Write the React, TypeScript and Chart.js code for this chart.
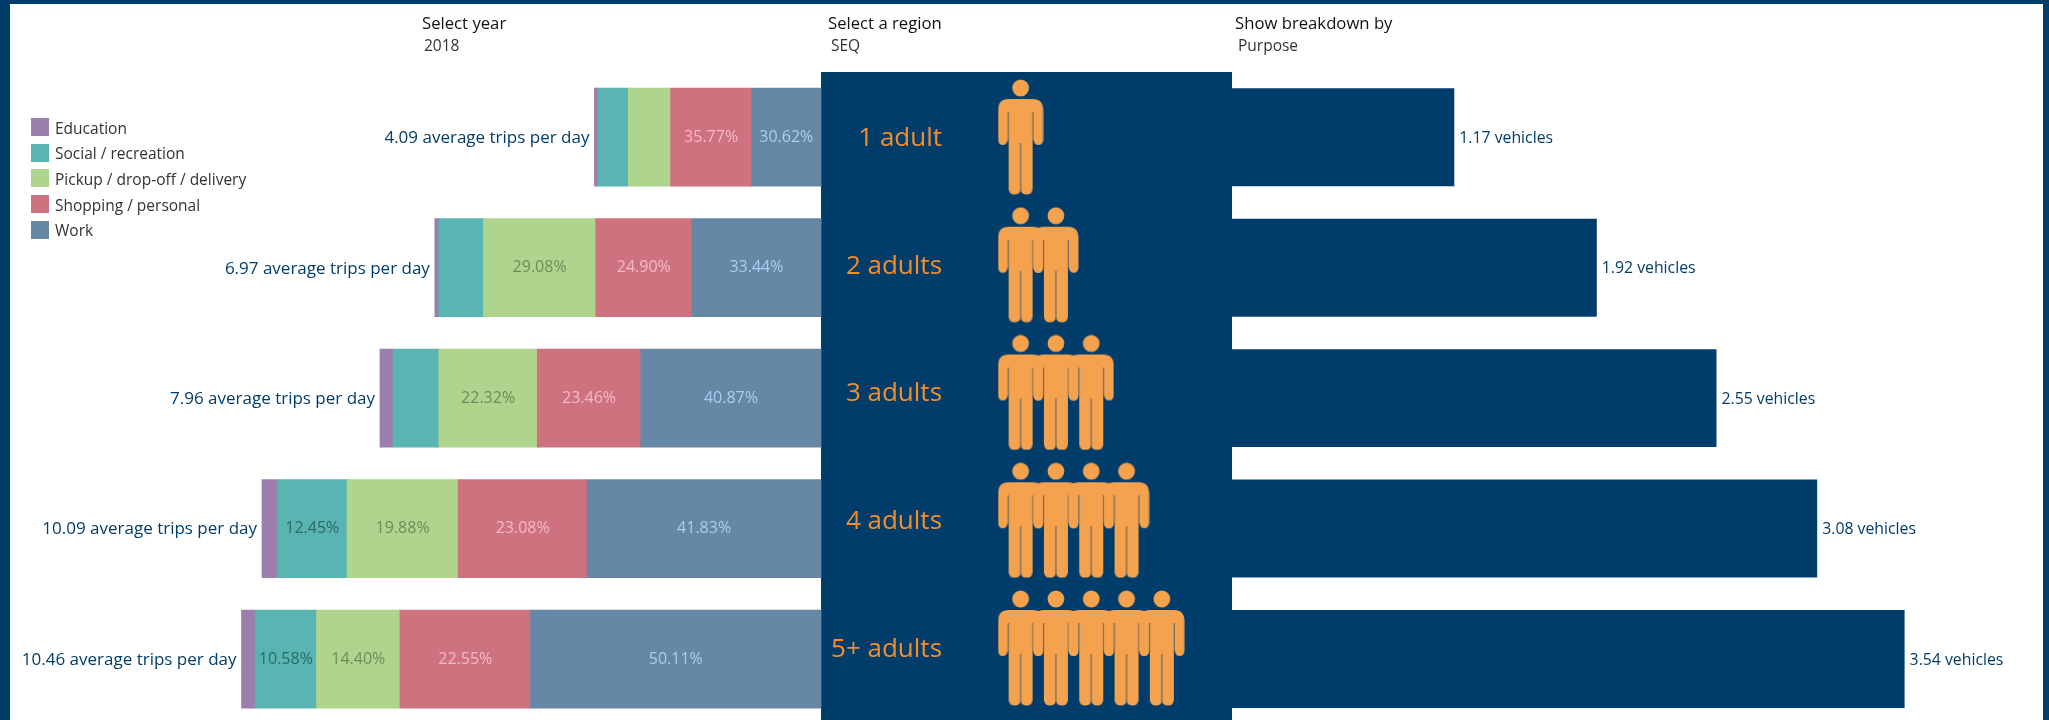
import React, { useEffect, useRef } from "react";
import { Chart, registerables } from "chart.js";

Chart.register(...registerables);

const FONT = "'Open Sans'";
const NAVY = "#003D6B";

const households = ["1 adult", "2 adults", "3 adults", "4 adults", "5+ adults"];
const adultCounts = [1, 2, 3, 4, 5];
const averageTrips = [4.09, 6.97, 7.96, 10.09, 10.46];
const vehicles = [1.17, 1.92, 2.55, 3.08, 3.54];

const purposeLegend = ["Education", "Social / recreation", "Pickup / drop-off / delivery", "Shopping / personal", "Work"];
const purposeColors = ["#9D7FAE", "#58B5B1", "#AED48E", "#CF7280", "#6688A6"];
const purposeTextColors = ["#ffffff", "#2C6A6C", "#6C8D58", "#F6BAC6", "#A9D0EE"];

const shareEducation = [1.4, 1.0, 2.95, 2.76, 2.36];
const shareSocial = [13.6, 11.58, 10.4, 12.45, 10.58];
const sharePickup = [18.61, 29.08, 22.32, 19.88, 14.4];
const shareShopping = [35.77, 24.9, 23.46, 23.08, 22.55];
const shareWork = [30.62, 33.44, 40.87, 41.83, 50.11];
const allShares = [shareEducation, shareSocial, sharePickup, shareShopping, shareWork];

const showShare = [
  [false, false, false, false, false],
  [false, false, false, true, true],
  [false, true, true, true, true],
  [true, true, true, true, true],
  [true, true, true, true, true],
];

const selectors = [
  { title: "Select year", value: "2018", x: 422, vx: 424 },
  { title: "Select a region", value: "SEQ", x: 828, vx: 831 },
  { title: "Show breakdown by", value: "Purpose", x: 1235, vx: 1238 },
];

function makePerson(): HTMLCanvasElement {
  const c = document.createElement("canvas");
  c.width = 46;
  c.height = 116;
  const g = c.getContext("2d") as CanvasRenderingContext2D;
  g.fillStyle = "#F4A24E";
  g.beginPath();
  g.ellipse(23, 9, 8.4, 8.6, 0, 0, Math.PI * 2);
  g.fill();
  g.beginPath();
  g.moveTo(11, 20);
  g.lineTo(35, 20);
  g.quadraticCurveTo(45.5, 20, 45.5, 31);
  g.lineTo(45.5, 61);
  g.quadraticCurveTo(45, 66, 41, 66);
  g.quadraticCurveTo(36.5, 66, 36, 61);
  g.lineTo(35, 61);
  g.lineTo(35, 110);
  g.quadraticCurveTo(34.5, 115.5, 29, 115.5);
  g.quadraticCurveTo(24, 115.5, 23, 111);
  g.quadraticCurveTo(22, 115.5, 17, 115.5);
  g.quadraticCurveTo(11.5, 115.5, 11, 110);
  g.lineTo(11, 61);
  g.lineTo(10, 61);
  g.quadraticCurveTo(9.5, 66, 5, 66);
  g.quadraticCurveTo(1, 66, 0.5, 61);
  g.lineTo(0.5, 31);
  g.quadraticCurveTo(0.5, 20, 11, 20);
  g.closePath();
  g.fill();
  g.strokeStyle = "rgba(0,61,107,0.55)";
  g.lineWidth = 1.2;
  g.beginPath();
  g.moveTo(10.6, 33);
  g.lineTo(10.6, 62);
  g.moveTo(35.4, 33);
  g.lineTo(35.4, 62);
  g.moveTo(23, 64);
  g.lineTo(23, 112);
  g.stroke();
  return c;
}

const panelPlugin = {
  id: "panel",
  beforeDatasetsDraw(chart: any) {
    const { ctx, chartArea, scales } = chart;
    const left = scales.xTrips.getPixelForValue(0);
    const right = scales.xVehicles.getPixelForValue(0);
    ctx.save();
    ctx.fillStyle = NAVY;
    ctx.fillRect(left, chartArea.top, right - left, chartArea.bottom - chartArea.top);
    ctx.restore();
  },
};

const labelPlugin = {
  id: "rowLabels",
  afterDatasetsDraw(chart: any) {
    const { ctx, scales } = chart;
    ctx.save();
    ctx.textBaseline = "middle";
    const panelLeft = scales.xTrips.getPixelForValue(0);
    households.forEach((name, i) => {
      const y = scales.y.getPixelForValue(i);
      ctx.font = `17px ${FONT}`;
      ctx.fillStyle = NAVY;
      ctx.textAlign = "right";
      ctx.fillText(`${averageTrips[i].toFixed(2)} average trips per day`, scales.xTrips.getPixelForValue(averageTrips[i]) - 5, y + 1);
      ctx.font = `15.8px ${FONT}`;
      ctx.textAlign = "left";
      ctx.fillText(`${vehicles[i].toFixed(2)} vehicles`, scales.xVehicles.getPixelForValue(vehicles[i]) + 5, y + 1);
      ctx.font = `26px ${FONT}`;
      ctx.fillStyle = "#F28E2B";
      ctx.textAlign = "right";
      ctx.fillText(name, panelLeft + 121, scales.yPanel.getPixelForValue(i) + 1.5);

      let start = 0;
      allShares.forEach((share, p) => {
        const len = (averageTrips[i] * share[i]) / 100;
        if (showShare[p][i]) {
          ctx.font = `16px ${FONT}`;
          ctx.textAlign = "center";
          ctx.fillStyle = purposeTextColors[p];
          const cx = scales.xTrips.getPixelForValue(averageTrips[i] - start - len / 2);
          ctx.fillText(`${share[i].toFixed(2)}%`, cx, y);
        }
        start += len;
      });
    });
    ctx.restore();
  },
};

export default function App() {
  const ref = useRef<HTMLCanvasElement | null>(null);
  useEffect(() => {
    const person = makePerson();
    const peoplePoints: { x: number; y: number }[] = [];
    adultCounts.forEach((n, row) => {
      for (let k = 1; k <= n; k++) peoplePoints.push({ x: k, y: row });
    });
    const purposeSets = allShares
      .map((share, p) => ({
        type: "bar" as const,
        label: purposeLegend[p],
        indexAxis: "y" as const,
        xAxisID: "xTrips",
        yAxisID: "y",
        stack: "trips",
        grouped: false,
        order: 2,
        data: share.map((v, i) => (averageTrips[i] * v) / 100),
        backgroundColor: purposeColors[p],
        borderWidth: 0,
        inflateAmount: 0.4,
        categoryPercentage: 0.751,
        barPercentage: 1,
      }))
      .reverse();
    const chart = new Chart(ref.current as HTMLCanvasElement, {
      type: "bar",
      data: {
        labels: households,
        datasets: [
          ...purposeSets,
          {
            type: "bar",
            label: "Vehicles",
            indexAxis: "y",
            xAxisID: "xVehicles",
            yAxisID: "y",
            stack: "vehicles",
            grouped: false,
            order: 2,
            data: vehicles,
            backgroundColor: NAVY,
            borderWidth: 0,
            categoryPercentage: 0.751,
            barPercentage: 1,
          },
          {
            type: "scatter",
            label: "Adults",
            indexAxis: "x",
            xAxisID: "xPeople",
            yAxisID: "yPanel",
            order: 1,
            data: peoplePoints,
            pointStyle: person,
            pointRadius: 20,
          },
        ] as any,
      },
      options: {
        animation: false,
        responsive: false,
        devicePixelRatio: 1,
        layout: { autoPadding: false, padding: { top: 72, bottom: 0.75, left: 0, right: 0 } },
        plugins: { legend: { display: false }, tooltip: { enabled: false } },
        scales: {
          y: { type: "category", axis: "y", stacked: true, display: false, offset: true },
          xTrips: { type: "linear", axis: "x", offset: false, stacked: true, reverse: true, display: false, min: -22.166, max: 14.82 },
          xVehicles: { type: "linear", axis: "x", offset: false, display: false, min: -6.484, max: 4.3 },
          xPeople: { type: "linear", axis: "x", offset: false, display: false, min: -27.91, max: 30.13 },
          yPanel: { type: "linear", axis: "y", offset: false, reverse: true, display: false, min: -0.5088, max: 4.597 },
        },
      } as any,
      plugins: [panelPlugin, labelPlugin],
    });
    return () => chart.destroy();
  }, []);

  return (
    <div style={{ position: "fixed", left: 0, top: 0, width: 2049, height: 720, overflow: "hidden", background: "#fff", fontFamily: FONT }}>
      <canvas ref={ref} width={2049} height={725} style={{ position: "absolute", left: 0, top: 0, width: 2049, height: 725 }} />
      <div style={{ position: "absolute", left: 0, top: 0, width: 2049, height: 4, background: NAVY }} />
      <div style={{ position: "absolute", left: 0, top: 0, width: 10, height: 720, background: NAVY }} />
      <div style={{ position: "absolute", left: 2043, top: 0, width: 6, height: 720, background: NAVY }} />
      {selectors.map((s) => (
        <React.Fragment key={s.title}>
          <div style={{ position: "absolute", left: s.x, top: 13, fontSize: 16.7, lineHeight: "20px", color: "#111", fontWeight: 500, whiteSpace: "nowrap" }}>{s.title}</div>
          <div style={{ position: "absolute", left: s.vx, top: 35, fontSize: 15.5, lineHeight: "20px", color: "#333", whiteSpace: "nowrap" }}>{s.value}</div>
        </React.Fragment>
      ))}
      {purposeLegend.map((name, i) => (
        <React.Fragment key={name}>
          <div style={{ position: "absolute", left: 31, top: 118 + i * 25.7, width: 18, height: 18, background: purposeColors[i] }} />
          <div style={{ position: "absolute", left: 55, top: 117.5 + i * 25.7, fontSize: 15.5, lineHeight: "20px", color: "#333", whiteSpace: "nowrap" }}>{name}</div>
        </React.Fragment>
      ))}
    </div>
  );
}
